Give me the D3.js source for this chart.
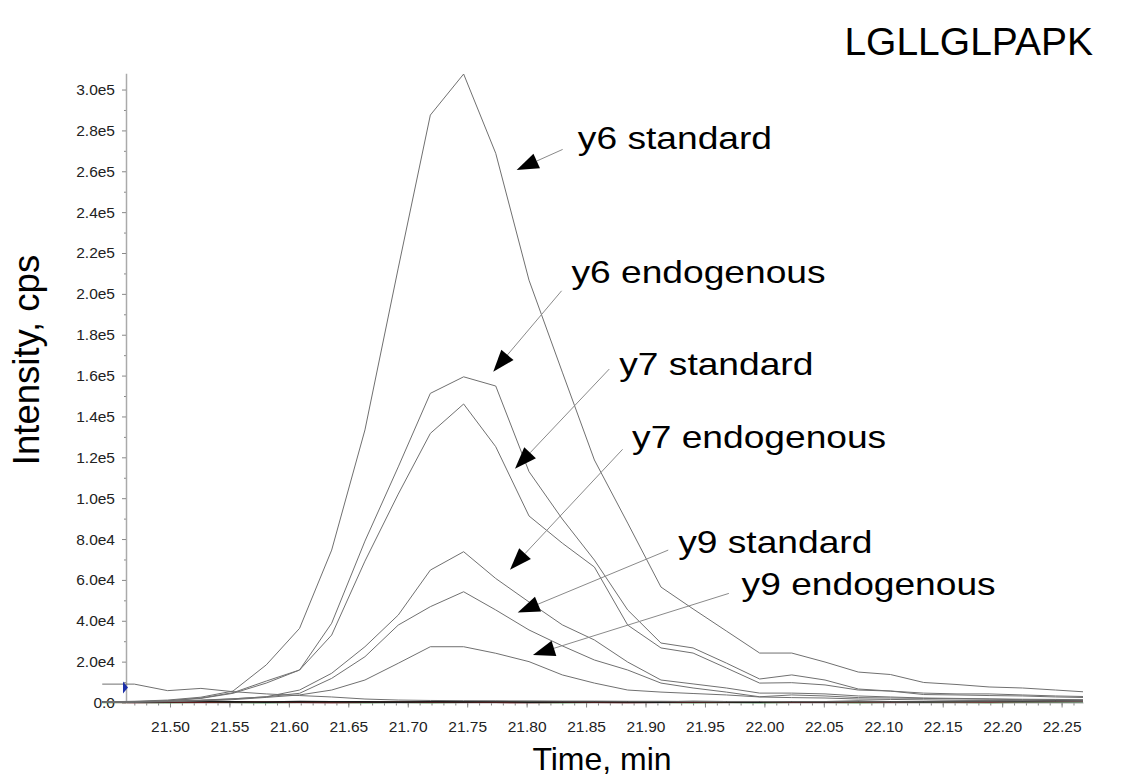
<!DOCTYPE html>
<html>
<head>
<meta charset="utf-8">
<script src="https://cdn.jsdelivr.net/npm/d3@7"></script>
<style>
    body { margin: 0; background: #fff; }
    svg { display: block; font-family: "Liberation Sans", Arial, sans-serif; }
</style>
</head>
<body>
<script>
// scan times (min)
const sample_times = [21.443, 21.470, 21.498, 21.526, 21.553, 21.581, 21.609, 21.636, 21.664, 21.692,
    21.719, 21.747, 21.774, 21.802, 21.830, 21.857, 21.885, 21.913, 21.940, 21.968,
    21.996, 22.023, 22.051, 22.079, 22.106, 22.134, 22.162, 22.189, 22.217, 22.245, 22.272];

// intensities (cps), one value per scan
const y6_standard = [300, 600, 1200, 2600, 5600, 18400, 36300, 74600, 133400, 212600,
    287500, 307600, 268800, 206700, 161700, 118700, 87800, 56500, 45800, 35000,
    24200, 24200, 19800, 14900, 13700, 9800, 8800, 7600, 7100, 6100, 5100];
const y6_endogenous = [200, 400, 900, 2200, 4800, 10500, 15900, 38800, 79000, 115300,
    151300, 159400, 154900, 113000, 89800, 69700, 45300, 29100, 26700, 19300,
    11500, 13500, 11000, 6600, 5600, 4600, 4200, 4200, 3700, 3200, 2900];
const y7_standard = [200, 300, 800, 2000, 4500, 9500, 15900, 33000, 69200, 102000,
    131700, 146100, 125200, 91300, 78000, 66300, 37900, 26700, 24200, 16900,
    9500, 9700, 8600, 6100, 5600, 3900, 3700, 3400, 3200, 2700, 2400];
const y7_endogenous = [100, 300, 600, 1200, 1800, 2800, 6100, 14300, 27300, 42800,
    64800, 73800, 60700, 49200, 38000, 30600, 19800, 11000, 9100, 7100,
    4600, 4600, 4200, 3200, 2700, 2200, 2000, 1800, 1600, 1500, 1300];
const y9_standard = [100, 200, 500, 1000, 1800, 2800, 4500, 11800, 22400, 37900,
    46900, 54200, 45300, 35500, 27700, 20800, 15900, 9500, 7100, 5100,
    2800, 3700, 3200, 2400, 2200, 2000, 1800, 1600, 1400, 1300, 1100];
const y9_endogenous = [100, 200, 400, 800, 1400, 2500, 3700, 6100, 11000, 19200,
    27300, 27300, 24100, 20000, 13500, 9500, 6100, 5100, 4400, 3700,
    2700, 2400, 2200, 1700, 1500, 1300, 1100, 1000, 900, 800, 700];
// other transitions near the baseline
const marker_trace = [9000, 9000, 5800, 6900, 5300, 4200, 3400, 2700, 1700, 1200,
    1000, 900, 800, 800, 700, 700, 600, 600, 500, 500,
    500, 400, 400, 400, 300, 300, 300, 300, 200, 200, 200];
const base_black = [300, 200, 400, 600, 300, 200, 500, 400, 300, 200, 400, 300, 500, 200, 300, 400,
    300, 200, 500, 300, 200, 400, 300, 600, 400, 300, 500, 700, 600, 900, 1000];
const base_green = [0, 100, 0, 200, 100, 0, 100, 200, 0, 100, 0, 100, 200, 100, 0, 100,
    200, 100, 0, 100, 0, 200, 100, 0, 100, 200, 100, 0, 200, 300, 400];
const base_red = [100, 0, 200, 100, 300, 200, 100, 0, 100, 200, 100, 300, 100, 0, 200, 100,
    0, 100, 200, 300, 400, 200, 100, 300, 200, 400, 300, 200, 400, 500, 600];

// axis ticks
const y_major_ticks = [0, 20000, 40000, 60000, 80000, 100000, 120000, 140000, 160000,
    180000, 200000, 220000, 240000, 260000, 280000, 300000];
const x_major_ticks = [21.50, 21.55, 21.60, 21.65, 21.70, 21.75, 21.80, 21.85, 21.90,
    21.95, 22.00, 22.05, 22.10, 22.15, 22.20, 22.25];

// annotations: label anchor, leader start, arrow tip (time, intensity)
const ann_labels = ["y6 standard", "y6 endogenous", "y7 standard", "y7 endogenous", "y9 standard", "y9 endogenous"];
const ann_text_t = [21.8431, 21.8377, 21.8779, 21.8887, 21.9275, 21.9808];
const ann_text_v = [270900, 205100, 160300, 124400, 73000, 52600];
const ann_from_t = [21.8303, 21.8294, 21.8695, 21.8807, 21.9191, 21.9701];
const ann_from_v = [270700, 201500, 163200, 123900, 74600, 53400];
const ann_tip_t = [21.7916, 21.7719, 21.7902, 21.7860, 21.7925, 21.8053];
const ann_tip_v = [260600, 161900, 114400, 65000, 44000, 23300];

let svg_width = 1122;
let svg_height = 780;

let svg = d3.select("body")
    .append("svg")
    .attr("width", svg_width)
    .attr("height", svg_height);

let x_scale = d3.scaleLinear()
    .domain([21.463, 22.268])
    .range([126, 1083]);
let y_scale = d3.scaleLinear()
    .domain([0, 308000])
    .range([702.5, 73.2]);

svg.append("clipPath")
    .attr("id", "plot_clip")
    .append("rect")
    .attr("x", 95)
    .attr("y", 60)
    .attr("width", x_scale.range()[1] - 95)
    .attr("height", 650);

// y axis
let y_minor = d3.range(10000, 308000, 20000);
svg.append("g")
    .attr("transform", `translate(${x_scale.range()[0]},0)`)
    .call(d3.axisLeft(y_scale).tickValues(y_minor).tickSize(2).tickSizeOuter(0).tickFormat(""))
    .call(g => g.select(".domain").remove())
    .call(g => g.selectAll("line").attr("stroke", "#888"));
let y_axis = svg.append("g")
    .attr("transform", `translate(${x_scale.range()[0]},0)`)
    .call(d3.axisLeft(y_scale)
        .tickValues(y_major_ticks)
        .tickSize(4)
        .tickSizeOuter(0)
        .tickPadding(7)
        .tickFormat(d => d === 0 ? "0.0" : d.toExponential(1).replace("+", "")));
y_axis.select(".domain").attr("stroke", "#aaa").attr("stroke-width", 1.5);
y_axis.selectAll("line").attr("stroke", "#888");
y_axis.selectAll("text").attr("font-size", 15.5).attr("fill", "#222");

// x axis
let x_minor = d3.range(21.47, 22.265, 0.01);
svg.append("g")
    .attr("transform", `translate(0,${y_scale(0)})`)
    .call(d3.axisBottom(x_scale).tickValues(x_minor).tickSize(3).tickSizeOuter(0).tickFormat(""))
    .call(g => g.select(".domain").remove())
    .call(g => g.selectAll("line").attr("stroke", "#888"));
let x_axis = svg.append("g")
    .attr("transform", `translate(0,${y_scale(0)})`)
    .call(d3.axisBottom(x_scale)
        .tickValues(x_major_ticks)
        .tickSize(5)
        .tickSizeOuter(0)
        .tickFormat(d3.format(".2f")));
x_axis.select(".domain").attr("stroke", "#aaa").attr("stroke-width", 1.2);
x_axis.selectAll("line").attr("stroke", "#888");
x_axis.selectAll("text")
    .attr("font-size", 15.5)
    .attr("fill", "#222")
    .attr("y", 18)
    .attr("dy", "0.71em");

// traces
let line_gen = d3.line()
    .x((d, i) => x_scale(sample_times[i]))
    .y(d => y_scale(d));

let traces = [
    { v: base_green, c: "#3cb44b", w: 1.6 },
    { v: base_red, c: "#7a1f1f", w: 1.6 },
    { v: base_black, c: "#1a1a1a", w: 1.6 },
    { v: marker_trace, c: "#707070", w: 1 },
    { v: y9_endogenous, c: "#707070", w: 1 },
    { v: y9_standard, c: "#707070", w: 1 },
    { v: y7_endogenous, c: "#707070", w: 1 },
    { v: y7_standard, c: "#707070", w: 1 },
    { v: y6_endogenous, c: "#707070", w: 1 },
    { v: y6_standard, c: "#707070", w: 1 }
];

let plot = svg.append("g").attr("clip-path", "url(#plot_clip)");
traces.forEach(function (d) {
    plot.append("path")
        .attr("d", line_gen(d.v))
        .attr("fill", "none")
        .attr("stroke", d.c)
        .attr("stroke-width", d.w)
        .attr("stroke-linejoin", "round");
});

// blue marker on the y axis
let mk_y = y_scale(7400);
let mk_x = x_scale.range()[0];
svg.append("path")
    .attr("d", `M${mk_x - 3},${mk_y - 6}L${mk_x + 2},${mk_y}L${mk_x - 3},${mk_y + 6}Z`)
    .attr("fill", "#1c2fa8");

// annotation arrows
let head_len = 22;
let head_half = 8;
ann_labels.forEach(function (lab, i) {
    let x0 = x_scale(ann_from_t[i]);
    let y0 = y_scale(ann_from_v[i]);
    let x1 = x_scale(ann_tip_t[i]);
    let y1 = y_scale(ann_tip_v[i]);
    let len = Math.hypot(x1 - x0, y1 - y0);
    let ux = (x1 - x0) / len;
    let uy = (y1 - y0) / len;
    let bx = x1 - ux * head_len;
    let by = y1 - uy * head_len;
    svg.append("line")
        .attr("x1", x0).attr("y1", y0)
        .attr("x2", bx).attr("y2", by)
        .attr("stroke", "#8a8a8a")
        .attr("stroke-width", 1);
    svg.append("path")
        .attr("d", `M${x1},${y1}L${bx - uy * head_half},${by + ux * head_half}L${bx + uy * head_half},${by - ux * head_half}Z`)
        .attr("fill", "#000");
    svg.append("text")
        .attr("transform", `translate(${x_scale(ann_text_t[i])},${y_scale(ann_text_v[i])}) scale(1.18,1)`)
        .attr("font-size", 31.5)
        .attr("fill", "#000")
        .text(lab);
});

// titles
svg.append("text")
    .attr("transform", "translate(1093,55)")
    .attr("text-anchor", "end")
    .attr("font-size", 39)
    .attr("fill", "#000")
    .text("LGLLGLPAPK");

svg.append("text")
    .attr("transform", "translate(39,360) rotate(-90)")
    .attr("text-anchor", "middle")
    .attr("font-size", 36.5)
    .attr("fill", "#000")
    .text("Intensity, cps");

svg.append("text")
    .attr("transform", "translate(602,770)")
    .attr("text-anchor", "middle")
    .attr("font-size", 32)
    .attr("fill", "#000")
    .text("Time, min");
</script>
</body>
</html>
